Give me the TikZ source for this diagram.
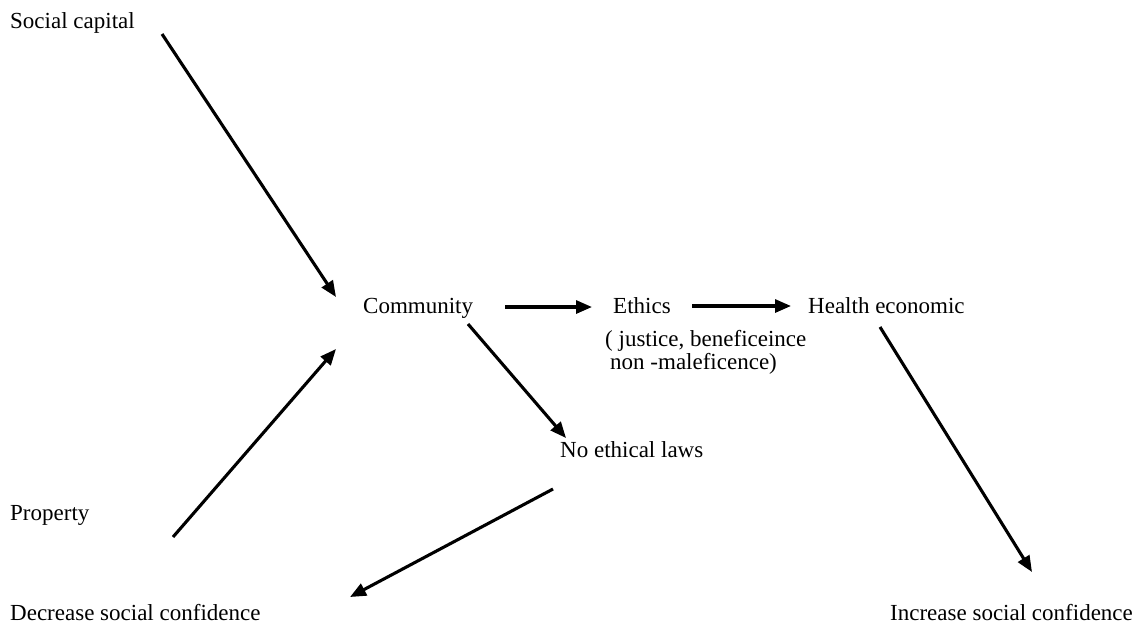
\documentclass[tikz,border=0pt]{standalone}
\usepackage{fontspec}
\setmainfont{Liberation Serif}
\usetikzlibrary{arrows.meta}
\begin{document}
\begin{tikzpicture}[x=1pt,y=-1pt,
  lbl/.style={anchor=base west,inner sep=0pt,font=\fontsize{23}{26}\selectfont},
  arr/.style={line width=3.1pt,-{Triangle[length=16pt,width=13pt]}}]
\useasboundingbox (0,0) rectangle (1134,625);
\node[lbl] (soc) at (10,28) {Social capital};
\node[lbl] (com) at (363,313) {Community};
\node[lbl] (eth) at (613,313) {Ethics};
\node[lbl] (ethA) at (605,346) {( justice, beneficeince};
\node[lbl] (ethB) at (610,369) {non -maleficence)};
\node[lbl] (hea) at (808,313) {Health economic};
\node[lbl] (noe) at (560,457) {No ethical laws};
\node[lbl] (pro) at (10,520) {Property};
\node[lbl] (dec) at (10,620) {Decrease social confidence};
\node[lbl] (inc) at (890,620) {Increase social confidence};
\coordinate (s1) at (162,34);   \coordinate (e1) at (336,297);
\coordinate (s2) at (173,537);  \coordinate (e2) at (336,349);
\coordinate (s3) at (505,307);  \coordinate (e3) at (592,307);
\coordinate (s4) at (692,306);  \coordinate (e4) at (791,306);
\coordinate (s5) at (468,324);  \coordinate (e5) at (566,438);
\coordinate (s6) at (553,489);  \coordinate (e6) at (350,597);
\coordinate (s7) at (880,327);  \coordinate (e7) at (1032,572);
\draw[arr] (s1) -- (e1);
\draw[arr] (s2) -- (e2);
\draw[arr] (s3) -- (e3);
\draw[arr] (s4) -- (e4);
\draw[arr] (s5) -- (e5);
\draw[arr] (s6) -- (e6);
\draw[arr] (s7) -- (e7);
\end{tikzpicture}
\end{document}
